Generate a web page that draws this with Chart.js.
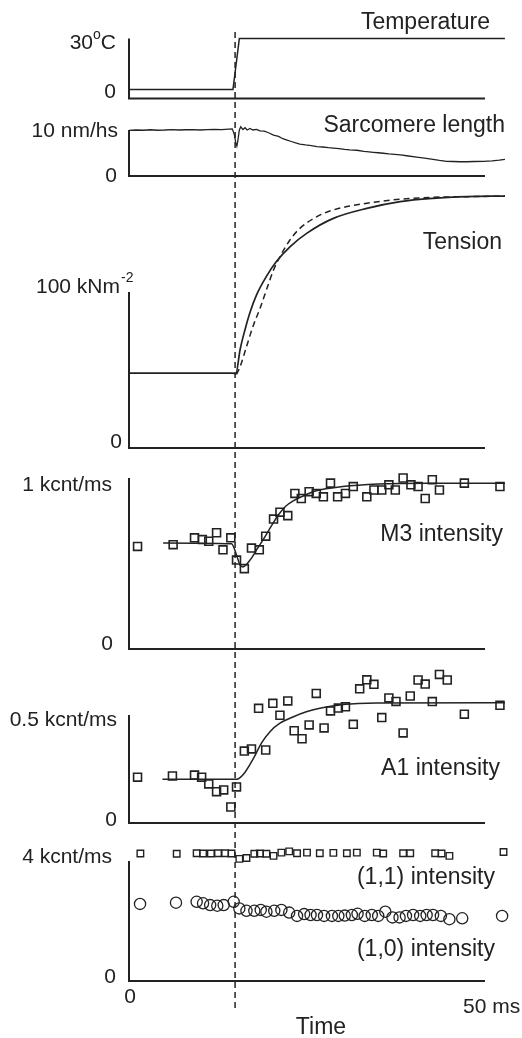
<!DOCTYPE html>
<html>
<head>
<meta charset="utf-8">
<script src="https://cdn.jsdelivr.net/npm/chart.js@4.4.0/dist/chart.umd.min.js"></script>
<style>
  html, body { margin: 0; padding: 0; background: #fff; }
  #wrap { position: relative; width: 522px; height: 1038px; }
</style>
</head>
<body>
<div id="wrap"><canvas id="chart"></canvas></div>
<script>
// all times in ms
const jumpTime = 14.9;

const temperatureTime = [0, 14.6, 15.5, 52.8];
const temperature = [4.5, 4.5, 30, 30];

const sarcomereTime = [0, 1, 2, 3, 4, 5, 6, 7, 8, 9, 10, 11, 12, 13, 14, 14.5, 14.8, 15.0, 15.15, 15.3, 15.5, 15.7, 16.0, 16.3, 16.6, 17.0, 17.4, 17.9, 18.4, 19.0, 19.6, 20.3, 21.0, 21.6, 22.1, 22.8, 23.4, 24.0, 24.8, 25.6, 26.4, 27.2, 28.0, 28.7, 29.5, 30.3, 31.0, 32.0, 33.0, 33.4, 34.3, 35.0, 35.7, 36.5, 37.3, 38.1, 39.0, 40.4, 41.5, 42.7, 43.6, 44.6, 45.5, 46.5, 47.4, 48.5, 49.8, 51.0, 52.0, 52.8];
const sarcomereLength = [9.9, 10.0, 9.95, 10.05, 9.95, 10.0, 10.1, 10.0, 10.05, 10.1, 10.0, 10.1, 10.15, 10.1, 10.2, 10.25, 9.0, 7.2, 6.5, 7.8, 10.0, 10.7, 10.1, 10.5, 10.0, 10.35, 10.0, 10.15, 9.8, 9.75, 9.4, 8.9, 8.6, 8.1, 7.85, 7.5, 7.2, 6.95, 6.75, 6.6, 6.4, 6.3, 6.15, 6.05, 5.95, 5.8, 5.7, 5.6, 5.35, 5.3, 5.15, 5.05, 4.95, 4.8, 4.7, 4.57, 4.4, 4.1, 3.9, 3.62, 3.4, 3.2, 3.15, 3.1, 3.1, 3.15, 3.2, 3.3, 3.45, 3.6];

const tensionTime = [0, 14.6, 15.0, 15.6, 16.3, 17.0, 17.9, 19.3, 20.7, 22.6, 24.95, 28.7, 33.4, 38.1, 42.7, 47.4, 52.8];
const tension = [48, 48, 47.5, 63, 76, 87, 98, 110, 119.5, 129, 137.6, 147.2, 153.6, 157.9, 160, 161.1, 161.5];
const tensionFitTime = [15.1, 15.6, 16.5, 17.4, 18.4, 19.3, 20.3, 21.2, 22.6, 24.0, 26.4, 28.7, 33.4, 38.1, 42.7, 47.4, 52.8];
const tensionFit = [47.2, 52.1, 64.9, 77.8, 89.5, 101.3, 114.1, 122.6, 133.3, 140.8, 148.3, 152.6, 156.9, 159.5, 160.7, 161.1, 161.5];

const m3Time = [1.2, 6.2, 9.2, 10.3, 11.2, 12.3, 13.2, 14.3, 15.1, 16.2, 17.2, 18.3, 19.2, 20.3, 21.2, 22.3, 23.3, 24.2, 25.3, 26.3, 27.3, 28.3, 29.3, 30.4, 31.5, 33.4, 34.4, 35.5, 36.5, 37.4, 38.5, 39.6, 40.6, 41.6, 42.6, 43.6, 47.1, 52.1];
const m3Intensity = [0.60, 0.61, 0.65, 0.64, 0.63, 0.68, 0.58, 0.65, 0.52, 0.47, 0.59, 0.58, 0.66, 0.76, 0.80, 0.78, 0.91, 0.88, 0.92, 0.91, 0.89, 0.97, 0.89, 0.91, 0.95, 0.89, 0.93, 0.93, 0.96, 0.93, 1.00, 0.96, 0.95, 0.88, 0.99, 0.93, 0.97, 0.95];
const m3FitTime = [4.8, 14.4, 15.1, 15.6, 16.0, 17.0, 18.0, 19.0, 20.0, 21.0, 22.0, 23.0, 24.2, 26.3, 30.0, 35.0, 42.0, 52.8];
const m3Fit = [0.62, 0.615, 0.55, 0.49, 0.48, 0.52, 0.585, 0.65, 0.72, 0.785, 0.835, 0.865, 0.89, 0.925, 0.95, 0.965, 0.97, 0.97];

const a1Time = [1.2, 6.1, 9.2, 10.2, 11.2, 12.3, 13.3, 14.3, 15.1, 16.2, 17.2, 18.2, 19.2, 20.2, 21.2, 22.3, 23.2, 24.3, 25.3, 26.3, 27.4, 28.3, 29.4, 30.4, 31.5, 32.4, 33.4, 34.4, 35.5, 36.5, 37.5, 38.5, 39.5, 40.6, 41.6, 42.6, 43.6, 44.7, 47.1, 52.1];
const a1Intensity = [0.212, 0.218, 0.222, 0.212, 0.181, 0.145, 0.153, 0.074, 0.167, 0.333, 0.343, 0.531, 0.338, 0.554, 0.499, 0.565, 0.427, 0.39, 0.454, 0.60, 0.44, 0.519, 0.532, 0.538, 0.457, 0.621, 0.663, 0.642, 0.488, 0.579, 0.563, 0.417, 0.588, 0.662, 0.643, 0.562, 0.688, 0.662, 0.504, 0.545];
const a1FitTime = [4.7, 15.1, 15.6, 16.3, 17.5, 18.6, 19.8, 21.2, 23.1, 24.9, 26.8, 30.1, 34.8, 52.8];
const a1Fit = [0.202, 0.202, 0.21, 0.235, 0.30, 0.37, 0.423, 0.462, 0.492, 0.515, 0.531, 0.549, 0.556, 0.557];

const i11Time = [1.6, 6.7, 9.5, 10.4, 11.5, 12.5, 13.5, 14.4, 15.5, 16.5, 17.6, 18.4, 19.3, 20.3, 21.4, 22.5, 23.6, 25.0, 26.8, 28.7, 30.6, 32.0, 34.8, 35.7, 38.5, 39.5, 43.0, 43.9, 45.0, 52.6];
const i11Intensity = [4.25, 4.24, 4.26, 4.25, 4.25, 4.26, 4.26, 4.25, 4.07, 4.10, 4.24, 4.25, 4.24, 4.17, 4.28, 4.32, 4.26, 4.28, 4.26, 4.27, 4.26, 4.28, 4.28, 4.25, 4.26, 4.26, 4.26, 4.25, 4.17, 4.30];
const i10Time = [1.55, 6.6, 9.5, 10.4, 11.4, 12.4, 13.3, 14.7, 15.5, 16.5, 17.6, 18.5, 19.3, 20.4, 21.4, 22.5, 23.6, 24.6, 25.5, 26.4, 27.4, 28.5, 29.4, 30.3, 31.3, 32.1, 33.1, 34.1, 35.0, 36.0, 37.0, 38.0, 38.9, 39.9, 40.9, 41.8, 42.7, 43.8, 45.0, 46.8, 52.4];
const i10Intensity = [2.57, 2.61, 2.64, 2.59, 2.53, 2.51, 2.53, 2.64, 2.42, 2.34, 2.34, 2.37, 2.31, 2.34, 2.37, 2.28, 2.17, 2.23, 2.20, 2.20, 2.17, 2.17, 2.17, 2.18, 2.20, 2.24, 2.17, 2.20, 2.17, 2.31, 2.12, 2.12, 2.17, 2.20, 2.17, 2.20, 2.20, 2.17, 2.06, 2.09, 2.17];

// ---- layout ----
const W = 522, H = 1038;
const X0PX = 129, X50PX = 485;          // pixel of 0 ms and 50 ms
const INK = '#222';
const FONT = "'Liberation Sans', Arial, sans-serif";

// each panel: y id, axis top value, pixel of that value, pixel of zero
const panels = [
  { id: 'yTemp', top: 30,  topPx: 38.5, zeroPx: 98.5 },
  { id: 'ySarc', top: 10,  topPx: 130,  zeroPx: 176 },
  { id: 'yTen',  top: 100, topPx: 292,  zeroPx: 448 },
  { id: 'yM3',   top: 1,   topPx: 478,  zeroPx: 649 },
  { id: 'yA1',   top: 0.5, topPx: 715,  zeroPx: 823 },
  { id: 'yInt',  top: 4,   topPx: 861,  zeroPx: 981 }
];

function yRange(p) {
  const k = p.top / (p.zeroPx - p.topPx);
  return { min: -(H - p.zeroPx) * k, max: p.top + p.topPx * k };
}
const xk = 50 / (X50PX - X0PX);

const pts = (xs, ys) => xs.map((x, i) => ({ x: x, y: ys[i] }));

const tickLabels = [
  { axis: 'yTemp', v: 30, text: '30°C', dy: 4.5, right: 116 },
  { axis: 'yTemp', v: 0, text: '0', dy: -6.5, right: 116 },
  { axis: 'ySarc', v: 10, text: '10 nm/hs', dy: 1, right: 118 },
  { axis: 'ySarc', v: 0, text: '0', dy: 0, right: 117 },
  { axis: 'yTen', v: 100, text: '100 kNm', sup: '-2', dy: -5, right: 120 },
  { axis: 'yTen', v: 0, text: '0', dy: -6, right: 122 },
  { axis: 'yM3', v: 1, text: '1 kcnt/ms', dy: 7, right: 112 },
  { axis: 'yM3', v: 0, text: '0', dy: -5, right: 113 },
  { axis: 'yA1', v: 0.5, text: '0.5 kcnt/ms', dy: 5, right: 117 },
  { axis: 'yA1', v: 0, text: '0', dy: -3, right: 117 },
  { axis: 'yInt', v: 4, text: '4 kcnt/ms', dy: -4, right: 112 },
  { axis: 'yInt', v: 0, text: '0', dy: -4, right: 116 }
];

const panelTitles = [
  { text: 'Temperature', right: 490, base: 28.5 },
  { text: 'Sarcomere length', right: 505, base: 131.5 },
  { text: 'Tension', right: 502, base: 248.5 },
  { text: 'M3 intensity', right: 503, base: 541 },
  { text: 'A1 intensity', right: 500, base: 775 },
  { text: '(1,1) intensity', right: 495, base: 884 },
  { text: '(1,0) intensity', right: 495, base: 956 }
];

const frames = {
  id: 'frames',
  afterDatasetsDraw(chart) {
    const ctx = chart.ctx;
    const sx = chart.scales.x;
    ctx.save();
    ctx.strokeStyle = INK;
    ctx.fillStyle = INK;

    // temperature jump marker
    const xj = sx.getPixelForValue(jumpTime);
    ctx.lineWidth = 1.5;
    ctx.setLineDash([6, 4]);
    ctx.beginPath();
    ctx.moveTo(xj, 32);
    ctx.lineTo(xj, 1008);
    ctx.stroke();
    ctx.setLineDash([]);

    // L-shaped axes of each panel
    ctx.lineWidth = 2;
    const xa = sx.getPixelForValue(0), xb = sx.getPixelForValue(50);
    panels.forEach(p => {
      const s = chart.scales[p.id];
      const yt = s.getPixelForValue(p.top), y0 = s.getPixelForValue(0);
      ctx.beginPath();
      ctx.moveTo(xa, yt);
      ctx.lineTo(xa, y0);
      ctx.lineTo(xb, y0);
      ctx.stroke();
    });

    // tick labels
    ctx.textBaseline = 'middle';
    tickLabels.forEach(t => {
      const y = chart.scales[t.axis].getPixelForValue(t.v) + t.dy;
      if (t.text === '30°C') {
        ctx.font = '21px ' + FONT;
        const wa = ctx.measureText('30').width, wc = ctx.measureText('C').width;
        ctx.font = '14px ' + FONT;
        const wo = ctx.measureText('o').width;
        let x = t.right - wa - wo - wc;
        ctx.textAlign = 'left';
        ctx.font = '21px ' + FONT;
        ctx.fillText('30', x, y);
        ctx.font = '14px ' + FONT;
        ctx.fillText('o', x + wa, y - 8);
        ctx.font = '21px ' + FONT;
        ctx.fillText('C', x + wa + wo, y);
        return;
      }
      ctx.font = '21px ' + FONT;
      ctx.textAlign = 'right';
      ctx.fillText(t.text, t.right, y);
      if (t.sup) {
        ctx.font = '14px ' + FONT;
        ctx.textAlign = 'left';
        ctx.fillText(t.sup, t.right + 1, y - 9);
      }
    });

    // time axis labels
    ctx.font = '21px ' + FONT;
    ctx.textAlign = 'center';
    ctx.fillText('0', sx.getPixelForValue(0) + 1, 997);
    ctx.textAlign = 'left';
    ctx.fillText('50 ms', 463, 1007);

    // panel titles
    ctx.textBaseline = 'alphabetic';
    ctx.font = '23px ' + FONT;
    ctx.textAlign = 'right';
    panelTitles.forEach(t => ctx.fillText(t.text, t.right, t.base));
    ctx.textAlign = 'center';
    ctx.fillText('Time', 321, 1034);
    ctx.restore();
  }
};

const lineStyle = { showLine: true, pointRadius: 0, borderColor: INK, borderWidth: 1.5, fill: false };
const squareStyle = {
  showLine: false, pointStyle: 'rect', pointRadius: 5.6, pointBorderWidth: 1.6,
  pointBorderColor: INK, pointBackgroundColor: 'rgba(0,0,0,0)'
};

const scales = {
  x: { type: 'linear', display: false, min: -X0PX * xk, max: 50 + (W - X50PX) * xk }
};
panels.forEach(p => {
  const r = yRange(p);
  scales[p.id] = { type: 'linear', display: false, min: r.min, max: r.max };
});

new Chart(document.getElementById('chart'), {
  type: 'scatter',
  data: {
    datasets: [
      Object.assign({ label: 'Temperature', yAxisID: 'yTemp', data: pts(temperatureTime, temperature), tension: 0 }, lineStyle),
      Object.assign({ label: 'Sarcomere length', yAxisID: 'ySarc', data: pts(sarcomereTime, sarcomereLength), tension: 0 }, lineStyle, { borderWidth: 1.3 }),
      Object.assign({ label: 'Tension', yAxisID: 'yTen', data: pts(tensionTime, tension), cubicInterpolationMode: 'monotone' }, lineStyle, { borderWidth: 1.7 }),
      Object.assign({ label: 'Tension fit', yAxisID: 'yTen', data: pts(tensionFitTime, tensionFit), cubicInterpolationMode: 'monotone', borderDash: [6, 4] }, lineStyle),
      Object.assign({ label: 'M3 fit', yAxisID: 'yM3', data: pts(m3FitTime, m3Fit), cubicInterpolationMode: 'monotone' }, lineStyle),
      Object.assign({ label: 'M3 intensity', yAxisID: 'yM3', data: pts(m3Time, m3Intensity) }, squareStyle),
      Object.assign({ label: 'A1 fit', yAxisID: 'yA1', data: pts(a1FitTime, a1Fit), cubicInterpolationMode: 'monotone' }, lineStyle),
      Object.assign({ label: 'A1 intensity', yAxisID: 'yA1', data: pts(a1Time, a1Intensity) }, squareStyle),
      Object.assign({ label: '(1,1) intensity', yAxisID: 'yInt', data: pts(i11Time, i11Intensity) }, squareStyle, { pointRadius: 4.6, pointBorderWidth: 1.4 }),
      { label: '(1,0) intensity', yAxisID: 'yInt', data: pts(i10Time, i10Intensity), showLine: false,
        pointStyle: 'circle', pointRadius: 5.6, pointBorderWidth: 1.3, pointBorderColor: INK, pointBackgroundColor: 'rgba(0,0,0,0)' }
    ]
  },
  options: {
    responsive: true,
    maintainAspectRatio: false,
    animation: false,
    events: [],
    layout: { padding: 0, autoPadding: false },
    plugins: { legend: { display: false }, tooltip: { enabled: false } },
    scales: scales
  },
  plugins: [frames]
});
</script>
</body>
</html>
